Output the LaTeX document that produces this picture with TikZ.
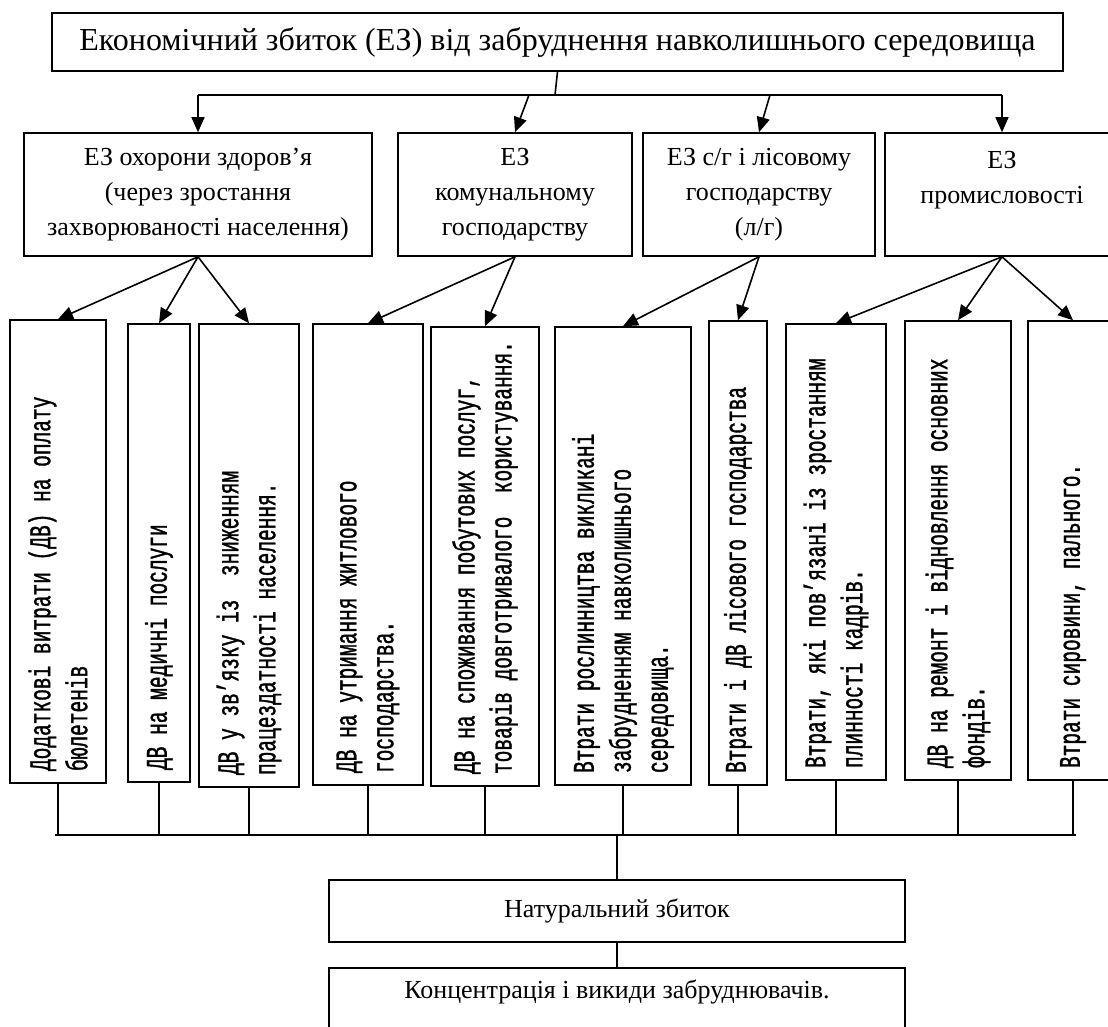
\documentclass[tikz,border=0pt]{standalone}
\usepackage{fontspec}
\setmainfont{Liberation Serif}
\newfontfamily\monofam[FakeBold=1.2,FakeStretch=0.65]{Liberation Mono}
\usetikzlibrary{arrows.meta}
\newcommand{\myvtext}[2]{\rotatebox{90}{\parbox{#1}{\raggedright\monofam\fontsize{30pt}{37pt}\selectfont #2}}}
\tikzset{
  boxst/.style={draw, line width=1.6pt, inner sep=0pt, align=center},
  vbox/.style={draw, line width=1.6pt, inner sep=0pt},
  link/.style={line width=1.6pt},
  arr/.style={line width=1.6pt, -{Triangle[length=15pt,width=13pt]}},
  rowfont/.style={font=\fontsize{26pt}{35pt}\selectfont},
  lowfont/.style={font=\fontsize{26pt}{30pt}\selectfont},
}
\begin{document}
\begin{tikzpicture}[x=1pt,y=-1pt]
\path[use as bounding box] (0,0) rectangle (1108,1026);
\clip (0,0) rectangle (1108,1026);
\fill[white] (0,0) rectangle (1108,1026);

% top
\node[boxst, minimum width=1011pt, minimum height=58pt, font=\fontsize{32pt}{36pt}\selectfont] (top) at (557.5,42)
  {Економічний збиток (ЕЗ) від забруднення навколишнього середовища};

% second row
\node[boxst, rowfont, minimum width=348pt, minimum height=123pt] (b1) at (198,194.5)
  {ЕЗ охорони здоров’я\\(через зростання\\захворюваності населення)};
\node[boxst, rowfont, minimum width=234pt, minimum height=123pt] (b2) at (515,194.5)
  {ЕЗ\\комунальному\\господарству};
\node[boxst, rowfont, minimum width=232pt, minimum height=123pt] (b3) at (759,194.5)
  {ЕЗ с/г і лісовому\\господарству\\(л/г)};
\node[boxst, rowfont, minimum width=234pt, minimum height=123pt] (b4) at (1002,194.5)
  {ЕЗ\\промисловості\\\phantom{Ег}};

% vertical boxes
\node[vbox, minimum width=96pt, minimum height=463pt] (v1) at (58,551.5)
  {\myvtext{439pt}{Додаткові витрати (ДВ) на оплату\\бюлетенів}};
\node[vbox, minimum width=62pt, minimum height=458pt] (v2) at (159,553)
  {\myvtext{434pt}{ДВ на медичні послуги}};
\node[vbox, minimum width=100pt, minimum height=463pt] (v3) at (249,555.5)
  {\myvtext{439pt}{ДВ у зв’язку із\ \ зниженням\\працездатності населення.}};
\node[vbox, minimum width=110pt, minimum height=461pt] (v4) at (368,554.5)
  {\myvtext{437pt}{ДВ на утримання житлового\\господарства.}};
\node[vbox, minimum width=108pt, minimum height=459pt] (v5) at (485,556.5)
  {\myvtext{435pt}{ДВ на споживання побутових послуг,\\товарів довготривалого\ \ користування.}};
\node[vbox, minimum width=136pt, minimum height=458pt] (v6) at (623,556)
  {\myvtext{434pt}{Втрати рослинництва викликані\\забрудненням навколишнього\\середовища.}};
\node[vbox, minimum width=58pt, minimum height=464pt] (v7) at (738,553)
  {\myvtext{440pt}{Втрати і ДВ лісового господарства}};
\node[vbox, minimum width=100pt, minimum height=456pt] (v8) at (836,552)
  {\myvtext{432pt}{Втрати, які пов’язані із зростанням\\плинності кадрів.}};
\node[vbox, minimum width=106pt, minimum height=459pt] (v9) at (958,550.5)
  {\myvtext{435pt}{ДВ на ремонт і відновлення основних\\фондів.}};
\node[vbox, minimum width=90pt, minimum height=459pt] (v10) at (1073,550.5)
  {\myvtext{435pt}{Втрати сировини, пального.}};

% bottom
\node[boxst, lowfont, minimum width=576pt, minimum height=62pt] (nat) at (617,911)
  {Натуральний збиток};
\node[boxst, lowfont, minimum width=576pt, minimum height=62pt, text depth=20pt] (kb) at (617,999)
  {Концентрація і викиди забруднювачів.};

% connectors
\coordinate (j0) at (555,95);
\coordinate (j2) at (529,95);
\coordinate (j3) at (770,95);
\coordinate (busL) at (55,835);
\coordinate (busR) at (1076,835);

\draw[link] (top.south) -- (j0);
\draw[link] (b1.north |- j0) -- (b4.north |- j0);
\draw[arr] (b1.north |- j0) -- (b1.north);
\draw[arr] (j2) -- (b2.north);
\draw[arr] (j3) -- (b3.north);
\draw[arr] (b4.north |- j0) -- (b4.north);

\draw[arr] (b1.south) -- (v1.north);
\draw[arr] (b1.south) -- (v2.north);
\draw[arr] (b1.south) -- (v3.north);
\draw[arr] (b2.south) -- (v4.north);
\draw[arr] (b2.south) -- (v5.north);
\draw[arr] (b3.south) -- (v6.north);
\draw[arr] (b3.south) -- (v7.north);
\draw[arr] (b4.south) -- (v8.north);
\draw[arr] (b4.south) -- (v9.north);
\draw[arr] (b4.south) -- (v10.north);

\foreach \v in {v1,v2,v3,v4,v5,v6,v7,v8,v9,v10}
  \draw[link] (\v.south) -- (\v.south |- busL);
\draw[link] (busL) -- (busR);
\draw[link] (nat.north |- busL) -- (nat.north);
\draw[link] (nat.south) -- (kb.north);
\end{tikzpicture}
\end{document}
